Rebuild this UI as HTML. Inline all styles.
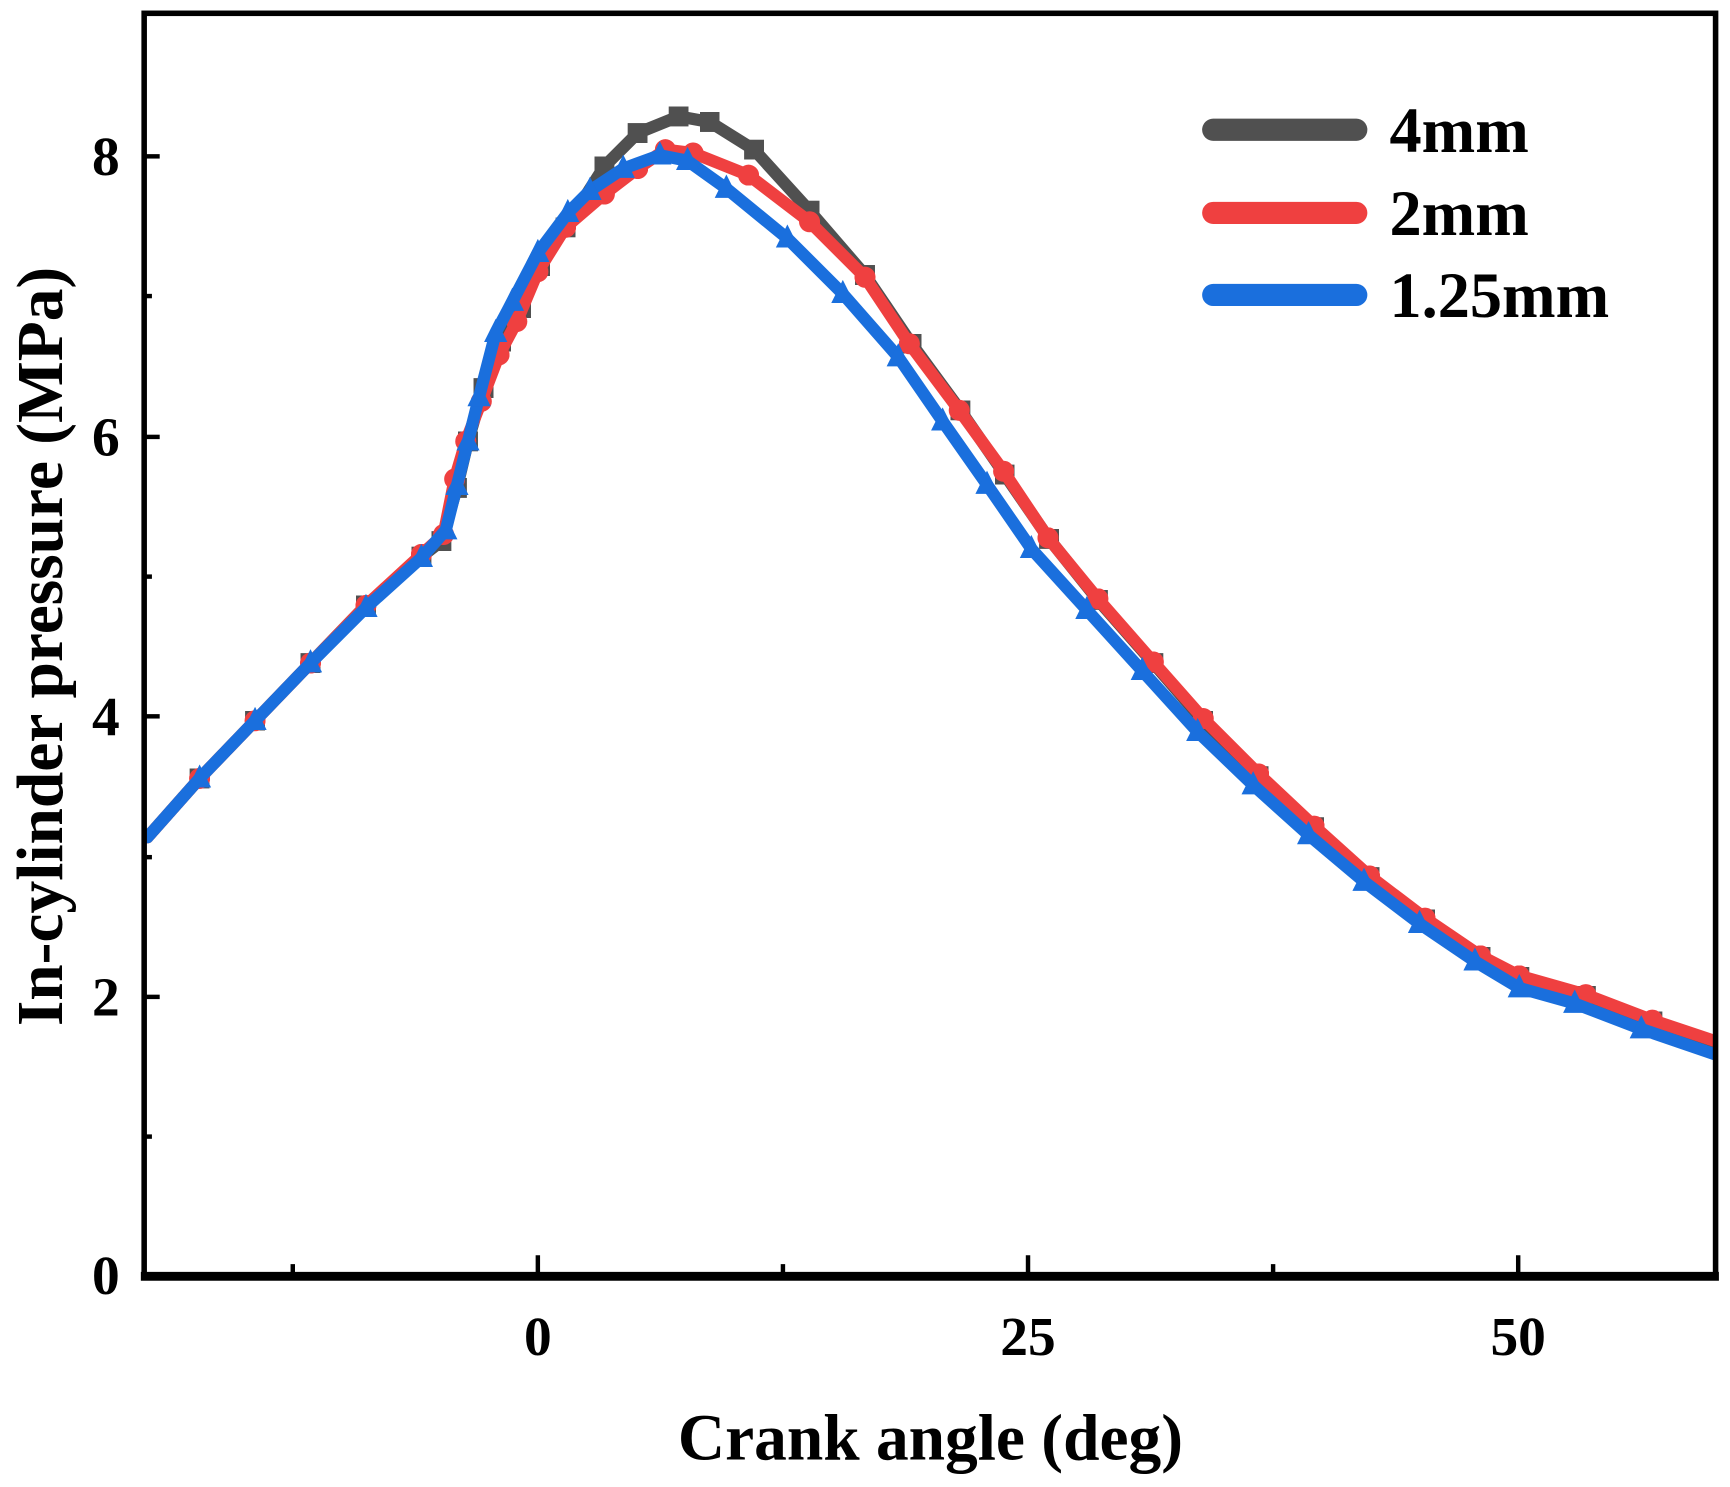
<!DOCTYPE html>
<html><head><meta charset="utf-8"><style>
html,body{margin:0;padding:0;background:#fff;}
svg{display:block;}
text{font-family:"Liberation Serif",serif;font-weight:bold;fill:#000;}
</style></head><body>
<svg width="1730" height="1487" viewBox="0 0 1560 1341" preserveAspectRatio="none" xmlns="http://www.w3.org/2000/svg">
<defs>
<marker id="sq" viewBox="0 0 10 10" refX="5" refY="5" markerWidth="18" markerHeight="18" markerUnits="userSpaceOnUse"><rect x="0" y="0" width="10" height="10" fill="#505050"/></marker>
<marker id="ci" viewBox="0 0 10 10" refX="5" refY="5" markerWidth="19" markerHeight="19" markerUnits="userSpaceOnUse"><circle cx="5" cy="5" r="5" fill="#ef4040"/></marker>
<marker id="tr" viewBox="0 0 10 10" refX="5" refY="6" markerWidth="21" markerHeight="21" markerUnits="userSpaceOnUse"><polygon points="5,0 10,10 0,10" fill="#1a6fdd"/></marker>
<clipPath id="pc"><rect x="130" y="12" width="1417" height="1138"/></clipPath>
</defs>
<g clip-path="url(#pc)" fill="none" stroke-linejoin="round" stroke-linecap="round" stroke-width="11">
<polyline stroke="#505050" marker-mid="url(#sq)" points="133,755 180,702 230,650 280,598 330,546 380,502 398,488 412,440 422,398 436,350 452,308 470,278 487,240 510,205 545,150 575,120 612,105 640,110 680,135 730,190 780,248 822,310 866,370 906,428 946,486 990,541 1040,598 1085,650 1135,700 1185,746 1235,791 1285,829 1335,863 1370,881 1430,898 1490,921 1550,942"/>
<polyline stroke="#ef4040" marker-mid="url(#ci)" points="133,755 180,702 230,650 280,598 330,546 380,500 400,482 410,432 420,398 434,362 450,320 466,290 485,245 510,205 545,175 575,152 600,135 625,138 675,158 730,200 780,250 820,310 865,370 905,425 945,485 990,540 1040,597 1085,648 1135,698 1185,745 1235,790 1285,828 1335,862 1370,880 1430,897 1490,920 1550,940"/>
<polyline stroke="#1a6fdd" marker-mid="url(#tr)" points="133,755 180,702 230,650 280,598 330,548 380,503 402,478 412,438 422,398 432,358 447,300 462,272 485,228 512,192 532,172 562,152 595,140 620,145 655,170 710,215 760,265 810,322 850,380 890,437 930,495 980,550 1030,605 1080,660 1130,708 1180,753 1230,795 1280,833 1330,867 1370,891 1420,905 1480,928 1550,952"/>
</g>
<g stroke="#000" fill="none">
<rect x="130" y="12" width="1417" height="1138" stroke-width="5"/>
<line x1="127" y1="1151" x2="1550" y2="1151" stroke-width="8"/>
<g stroke-width="4">
<line x1="130" y1="141" x2="144" y2="141"/><line x1="130" y1="394" x2="144" y2="394"/><line x1="130" y1="646" x2="144" y2="646"/><line x1="130" y1="899" x2="144" y2="899"/>
<line x1="130" y1="267" x2="137" y2="267"/><line x1="130" y1="520" x2="137" y2="520"/><line x1="130" y1="773" x2="137" y2="773"/><line x1="130" y1="1025" x2="137" y2="1025"/>
<line x1="485" y1="1148" x2="485" y2="1132"/><line x1="927" y1="1148" x2="927" y2="1132"/><line x1="1369" y1="1148" x2="1369" y2="1132"/>
<line x1="264" y1="1148" x2="264" y2="1140"/><line x1="706" y1="1148" x2="706" y2="1140"/><line x1="1148" y1="1148" x2="1148" y2="1140"/>
</g>
</g>
<g font-size="50" text-anchor="end">
<text x="108" y="158">8</text><text x="108" y="411">6</text><text x="108" y="663">4</text><text x="108" y="916">2</text><text x="108" y="1167">0</text>
</g>
<g font-size="50" text-anchor="middle">
<text x="485" y="1222">0</text><text x="927" y="1222">25</text><text x="1369" y="1222">50</text>
</g>
<text x="839" y="1316" font-size="59" text-anchor="middle">Crank angle (deg)</text>
<text transform="translate(56,583) rotate(-90)" font-size="59" text-anchor="middle">In-cylinder pressure (MPa)</text>
<g stroke-linecap="round" stroke-width="20">
<line x1="1094" y1="117" x2="1223" y2="117" stroke="#505050"/>
<line x1="1094" y1="192" x2="1223" y2="192" stroke="#ef4040"/>
<line x1="1094" y1="266" x2="1223" y2="266" stroke="#1a6fdd"/>
</g>
<g font-size="58">
<text x="1253" y="137">4mm</text><text x="1253" y="212">2mm</text><text x="1253" y="286">1.25mm</text>
</g>
</svg>
</body></html>
